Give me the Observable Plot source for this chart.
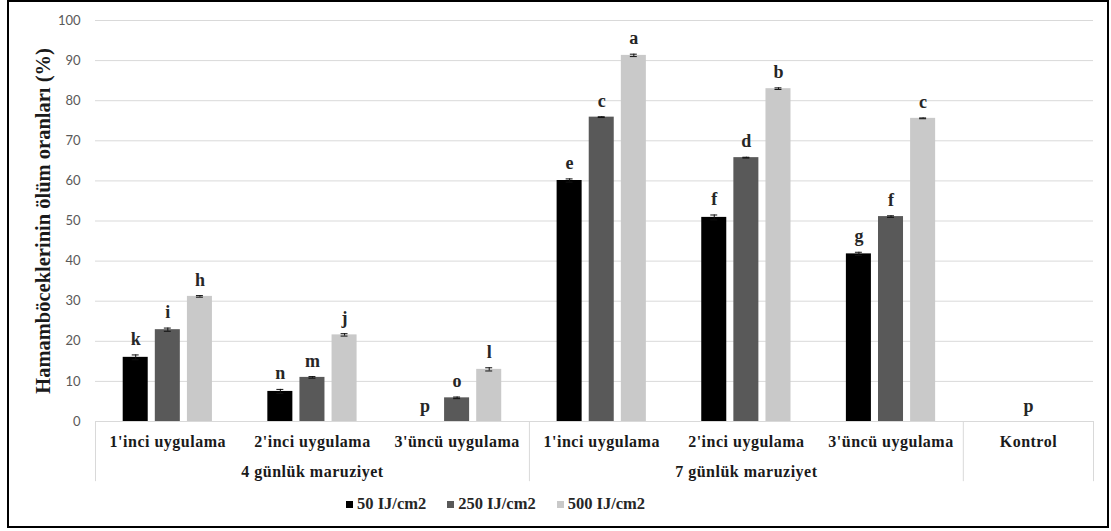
<!DOCTYPE html>
<html>
<head>
<meta charset="utf-8">
<script src="https://cdn.jsdelivr.net/npm/d3@7"></script>
<script src="https://cdn.jsdelivr.net/npm/@observablehq/plot@0.6"></script>
<style>
  body { margin: 0; background: #fff; }
  #wrap { position: relative; width: 1111px; height: 531px; }
  #border { position: absolute; left: 7px; top: 0; width: 1102px; height: 528px; border: 2px solid #000; box-sizing: border-box; pointer-events: none; }
  #chart { position: absolute; left: 0; top: 0; }
  #chart g[font-size="16"] text { letter-spacing: 0.5px; }
  #legend { position: absolute; left: 346px; top: 494px; display: flex; align-items: center; font: bold 16.5px "Liberation Serif", serif; color: #262626; white-space: nowrap; }
  #legend .item { display: flex; align-items: center; margin-right: 21px; }
  #legend .sw { width: 7px; height: 7px; margin-right: 4px; }
</style>
</head>
<body>
<div id="wrap">
  <div id="chart"></div>
  <div id="legend"></div>
  <div id="border"></div>
</div>
<script>
// Treatment groups along the x axis (inner level) and exposure periods (outer level)
const groups = ["1'inci uygulama", "2'inci uygulama", "3'üncü uygulama",
                "1'inci uygulama", "2'inci uygulama", "3'üncü uygulama", "Kontrol"];
const sections = ["4 günlük maruziyet", "7 günlük maruziyet"];
const series = ["50 IJ/cm2", "250 IJ/cm2", "500 IJ/cm2"];

// Mortality rates (%) per dose
const v50  = [16.0,  7.5,  0.0, 60.1, 50.9, 41.8, 0];
const v250 = [22.9, 11.0,  5.9, 75.9, 65.8, 51.1, 0];
const v500 = [31.2, 21.6, 13.0, 91.3, 83.0, 75.6, 0];

// Standard errors
const e50  = [0.6, 0.5, 0.0, 0.4, 0.6, 0.4, 0];
const e250 = [0.4, 0.2, 0.2, 0.1, 0.1, 0.2, 0];
const e500 = [0.2, 0.3, 0.4, 0.3, 0.2, 0.1, 0];

// Significance letters
const l50  = ["k", "n", "p", "e", "f", "g", ""];
const l250 = ["i", "m", "o", "c", "d", "f", "p"];
const l500 = ["h", "j", "l", "a", "b", "c", ""];

const yTicks = [0, 10, 20, 30, 40, 50, 60, 70, 80, 90, 100];

// ---- layout & style ----
const colors = ["#000000", "#595959", "#c9c9c9"];
const serif = "'Liberation Serif', 'Times New Roman', serif";
const groupSpan = groups.map(g => g === "Kontrol" ? 0.9 : 1); // control column is a bit narrower
const edges = [0];
groupSpan.forEach((w, i) => edges.push(edges[i] + w));
const centers = groupSpan.map((w, i) => edges[i] + w / 2);
const total = edges[edges.length - 1];
const step = 0.222, barW = 0.173, cap = 0.024;

const values = [v50, v250, v500], errors = [e50, e250, e500], letters = [l50, l250, l500];
const rows = [];
groups.forEach((g, gi) => {
  series.forEach((s, si) => {
    const xc = centers[gi] + (si - 1) * step;
    rows.push({
      group: g, series: s, xc,
      x1: xc - barW / 2, x2: xc + barW / 2,
      value: values[si][gi], err: errors[si][gi], letter: letters[si][gi]
    });
  });
});
const withErr = rows.filter(d => d.err > 0);
const labelled = rows.filter(d => d.letter);

const groupLabels = groups.map((g, i) => ({text: g, x: centers[i]}));
const sectionLabels = sections.map((s, i) => ({text: s, x: (edges[i * 3] + edges[i * 3 + 3]) / 2}));
const separators = [edges[0], edges[3], edges[6], edges[7]];

const chart = Plot.plot({
  width: 1111,
  height: 490,
  marginLeft: 95,
  marginRight: 18,
  marginTop: 20,
  marginBottom: 69,
  style: {background: "transparent", overflow: "visible"},
  x: {domain: [0, total], axis: null},
  y: {domain: [0, 100], axis: null},
  color: {domain: series, range: colors},
  marks: [
    Plot.ruleY(yTicks, {y: d => d, stroke: "#d9d9d9", strokeWidth: 1}),
    Plot.ruleX(separators, {x: d => d, y1: -15, y2: 0, stroke: "#d9d9d9", strokeWidth: 1}),
    Plot.axisY(yTicks, {tickSize: 0, tickPadding: 15, fontSize: 13, fontFamily: "Lato, 'Open Sans', sans-serif", fill: "#595959", label: null}),
    Plot.rect(rows, {x1: "x1", x2: "x2", y1: 0, y2: "value", fill: "series"}),
    Plot.ruleX(withErr, {x: "xc", y1: d => d.value - d.err, y2: d => d.value + d.err, stroke: "#111", strokeWidth: 1}),
    Plot.ruleY(withErr, {y: d => d.value + d.err, x1: d => d.xc - cap, x2: d => d.xc + cap, stroke: "#111", strokeWidth: 1}),
    Plot.ruleY(withErr, {y: d => d.value - d.err, x1: d => d.xc - cap, x2: d => d.xc + cap, stroke: "#111", strokeWidth: 1}),
    Plot.text(labelled, {x: "xc", y: d => d.value + d.err, text: "letter", lineAnchor: "bottom", dy: -10,
      fontFamily: serif, fontWeight: "bold", fontSize: 18, fill: "#262626"}),
    Plot.text(groupLabels, {x: "x", text: "text", frameAnchor: "bottom", lineAnchor: "bottom", dy: 25,
      fontFamily: serif, fontWeight: "bold", fontSize: 16, fill: "#1a1a1a"}),
    Plot.text(sectionLabels, {x: "x", text: "text", frameAnchor: "bottom", lineAnchor: "bottom", dy: 55,
      fontFamily: serif, fontWeight: "bold", fontSize: 16, fill: "#1a1a1a"}),
    Plot.text(["Hamamböceklerinin ölüm oranları (%)"], {text: d => d, frameAnchor: "left", textAnchor: "middle",
      lineAnchor: "middle", rotate: -90, dx: -52,
      fontFamily: serif, fontWeight: "bold", fontSize: 20.5, fill: "#1a1a1a"})
  ]
});
document.getElementById("chart").appendChild(chart);

// Legend under the chart
const legend = document.getElementById("legend");
series.forEach((s, i) => {
  const item = document.createElement("div");
  item.className = "item";
  const sw = document.createElement("span");
  sw.className = "sw";
  sw.style.background = colors[i];
  const t = document.createElement("span");
  t.textContent = s;
  item.append(sw, t);
  legend.appendChild(item);
});
</script>
</body>
</html>
